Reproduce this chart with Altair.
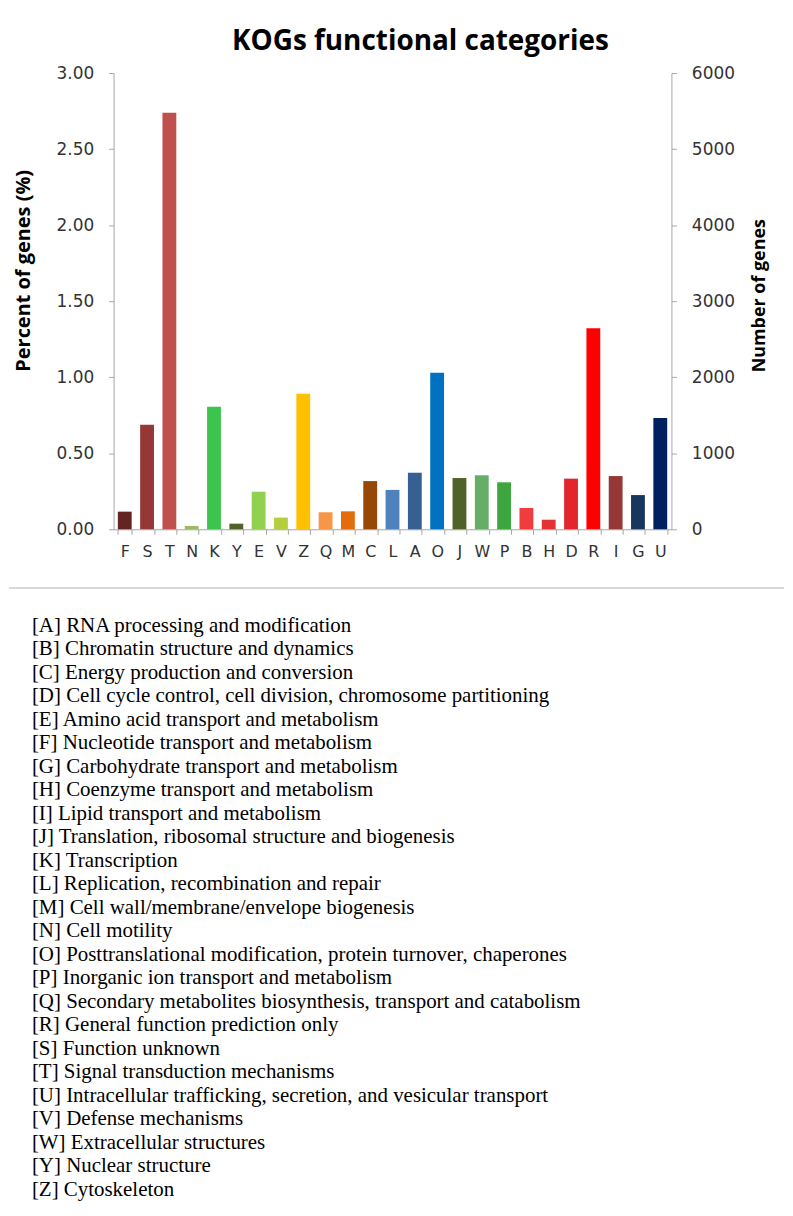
import altair as alt
import pandas as pd

categories = ["F", "S", "T", "N", "K", "Y", "E", "V", "Z", "Q", "M", "C", "L",
              "A", "O", "J", "W", "P", "B", "H", "D", "R", "I", "G", "U"]
percent = [0.116, 0.687, 2.739, 0.022, 0.806, 0.037, 0.247, 0.077, 0.891, 0.112,
           0.118, 0.317, 0.259, 0.372, 1.029, 0.337, 0.355, 0.309, 0.140, 0.063,
           0.333, 1.322, 0.350, 0.225, 0.731]
genes = [232, 1374, 5478, 44, 1612, 74, 494, 154, 1782, 224, 236, 634, 518, 744,
         2058, 674, 710, 618, 280, 126, 666, 2644, 700, 450, 1462]
bar_colors = ["#632423", "#953735", "#C0504D", "#9BBB59", "#3BC44E", "#4F6228",
              "#92D050", "#B5CF3C", "#FFC000", "#F79646", "#E46C0A", "#974806",
              "#4F81BD", "#366092", "#0070C0", "#4F6228", "#66AE66", "#3DA63E",
              "#F03C3C", "#E23232", "#E3262C", "#FF0000", "#953735", "#17375E",
              "#002060"]

pct_ticks = [0, 0.5, 1.0, 1.5, 2.0, 2.5, 3.0]
gene_ticks = [0, 1000, 2000, 3000, 4000, 5000, 6000]

legend_codes = ["A", "B", "C", "D", "E", "F", "G", "H", "I", "J", "K", "L", "M",
                "N", "O", "P", "Q", "R", "S", "T", "U", "V", "W", "Y", "Z"]
legend_names = [
    "RNA processing and modification",
    "Chromatin structure and dynamics",
    "Energy production and conversion",
    "Cell cycle control, cell division, chromosome partitioning",
    "Amino acid transport and metabolism",
    "Nucleotide transport and metabolism",
    "Carbohydrate transport and metabolism",
    "Coenzyme transport and metabolism",
    "Lipid transport and metabolism",
    "Translation, ribosomal structure and biogenesis",
    "Transcription",
    "Replication, recombination and repair",
    "Cell wall/membrane/envelope biogenesis",
    "Cell motility",
    "Posttranslational modification, protein turnover, chaperones",
    "Inorganic ion transport and metabolism",
    "Secondary metabolites biosynthesis, transport and catabolism",
    "General function prediction only",
    "Function unknown",
    "Signal transduction mechanisms",
    "Intracellular trafficking, secretion, and vesicular transport",
    "Defense mechanisms",
    "Extracellular structures",
    "Nuclear structure",
    "Cytoskeleton",
]

df = pd.DataFrame({"cat": categories, "pct": percent, "genes": genes})
leg_df = pd.DataFrame({
    "i": list(range(len(legend_codes))),
    "label": [f"[{c}] {n}" for c, n in zip(legend_codes, legend_names)],
})

W, H = 560, 458
AXIS_GRAY = "#A6A6A6"
LABEL_COLOR = "#333333"

x_enc = alt.X(
    "cat:N", sort=categories, title=None,
    scale=alt.Scale(paddingInner=0.38, paddingOuter=0.19),
    axis=alt.Axis(labelAngle=0, tickBand="extent", tickSize=5,
                  domainColor=AXIS_GRAY, tickColor=AXIS_GRAY,
                  labelFont="DejaVu Sans", labelFontSize=16,
                  labelColor=LABEL_COLOR, labelPadding=9),
)

bars = alt.Chart(df).mark_bar().encode(
    x=x_enc,
    y=alt.Y("pct:Q", scale=alt.Scale(domain=[0, 3], nice=False),
            axis=alt.Axis(values=pct_ticks, format=".2f", grid=False,
                          title="Percent of genes (%)", titleFont="Open Sans",
                          titleFontSize=20, titleFontWeight="bold",
                          titleColor="black", titlePadding=23, titleY=198,
                          labelFont="DejaVu Sans", labelFontSize=17,
                          labelColor=LABEL_COLOR, labelPadding=15,
                          tickSize=5, domainColor=AXIS_GRAY, tickColor=AXIS_GRAY)),
    color=alt.Color("cat:N", scale=alt.Scale(domain=categories, range=bar_colors),
                    legend=None),
)

right = alt.Chart(df).mark_bar(opacity=0).encode(
    x=x_enc,
    y=alt.Y("genes:Q", scale=alt.Scale(domain=[0, 6000], nice=False),
            axis=alt.Axis(orient="right", values=gene_ticks, format="d", grid=False,
                          title="Number of genes", titleFont="Open Sans",
                          titleFontSize=18, titleFontWeight="bold",
                          titleColor="black", titleAngle=270, titleBaseline="top",
                          titlePadding=16, titleY=223,
                          labelFont="DejaVu Sans", labelFontSize=17,
                          labelColor=LABEL_COLOR, labelPadding=15,
                          tickSize=5, domainColor=AXIS_GRAY, tickColor=AXIS_GRAY)),
)

top = alt.layer(bars, right).resolve_scale(y="independent").properties(
    width=W, height=H,
    title=alt.TitleParams("KOGs functional categories", font="Open Sans",
                          fontSize=28, fontWeight="bold", color="black",
                          anchor="middle", dx=28, offset=8),
)

PANEL_H = 612
first_center = 38.0
step = 23.58
lo = -first_center / step
hi = lo + PANEL_H / step

text = alt.Chart(leg_df).mark_text(
    align="left", baseline="middle", font="Liberation Serif", fontSize=21,
    color="black",
).encode(
    x=alt.value(-82),
    y=alt.Y("i:Q", scale=alt.Scale(domain=[lo, hi], reverse=True, nice=False,
                                   zero=False), axis=None),
    text="label:N",
)

sep = alt.Chart(pd.DataFrame({"k": [0]})).mark_rule(
    color="#D9D9D9", strokeWidth=2
).encode(x=alt.value(-105), x2=alt.value(W + 113), y=alt.value(0))

bottom = alt.layer(sep, text).properties(width=W, height=PANEL_H)

chart = alt.vconcat(top, bottom, spacing=28).properties(
    padding={"left": 0, "top": 18, "right": 0, "bottom": 0}
).configure_view(stroke=None)

chart.save("out.html", embed_options={"renderer": "svg", "actions": False})
